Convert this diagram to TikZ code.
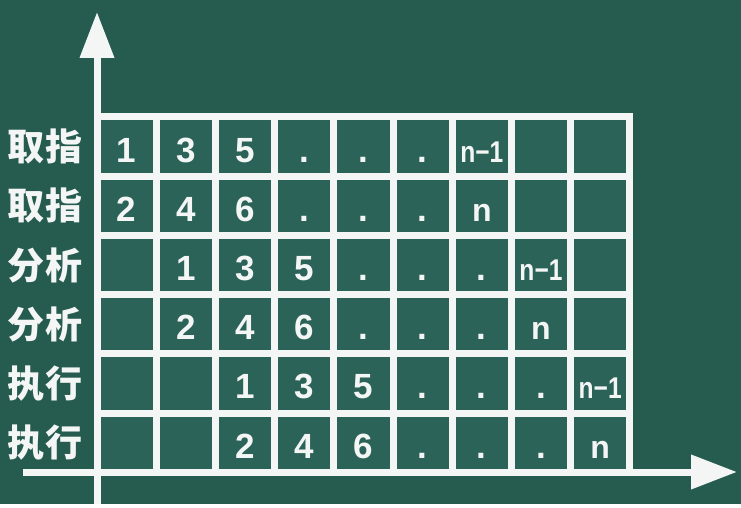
\documentclass[tikz,border=0pt]{standalone}
\usepackage{fontspec}
\usepackage{tikz}
\usetikzlibrary{arrows.meta}
\newfontfamily\cjk{Noto Sans CJK SC}
\newfontfamily\numfont{Liberation Sans}
\definecolor{board}{HTML}{265C50}
\definecolor{boardcell}{HTML}{2B6359}
\definecolor{chalk}{HTML}{F4F6F5}
\newcommand{\nmone}{\scalebox{0.82}[1]{\fontsize{30}{30}\selectfont n−1}}
\newcommand{\nlast}{{\fontsize{32}{32}\selectfont n}}

\begin{document}
\begin{tikzpicture}[x=1pt,y=-1pt,>={Triangle[width=33pt,length=46pt]},
  cell/.style={draw=chalk,line width=7pt,fill=boardcell,minimum size=59.2pt,inner sep=0pt},
  num/.style={text=chalk,inner sep=0pt,text height=31pt,text depth=0pt,
    font=\numfont\bfseries\fontsize{35}{35}\selectfont},
  rowlabel/.style={text=chalk,inner sep=0pt,font=\cjk\bfseries\fontsize{37}{37}\selectfont},
  axis/.style={draw=chalk,line width=7pt}]

% Board
\fill[board] (0,0) rectangle (741,504);

% Draw cells
\foreach \c in {1,...,9}
  \foreach \r in {1,...,6}
    \node[cell] (c-\c-\r) at ({97+59.2*(\c-0.5)},{117+59.2*(\r-0.5)}) {};

% Draw numbers
\foreach \k in {1,2,3} {
  \pgfmathtruncatemacro{\ra}{2*\k-1}
  \pgfmathtruncatemacro{\rb}{2*\k}
  \foreach \t [count=\c from \k] in {1,3,5,.,.,.,\nmone}
    \node[num] (t-\c-\ra) at (c-\c-\ra) {\t};
  \foreach \t [count=\c from \k] in {2,4,6,.,.,.,\nlast}
    \node[num] (t-\c-\rb) at (c-\c-\rb) {\t};
}

% Row labels
\foreach \lab [count=\r] in {取指,取指,分析,分析,执行,执行}
  \node[rowlabel] (lab-\r) at (45,{117+59.2*(\r-0.5)}) {\lab};

% Draw axes
\coordinate (yfoot) at (97,504);
\coordinate (ytip) at (97,12);
\coordinate (xfoot) at (23,472);
\coordinate (xtip) at (737,472);
\draw[axis,->] (yfoot) -- (ytip);
\draw[axis,->] (xfoot) -- (xtip);

\end{tikzpicture}
\end{document}
